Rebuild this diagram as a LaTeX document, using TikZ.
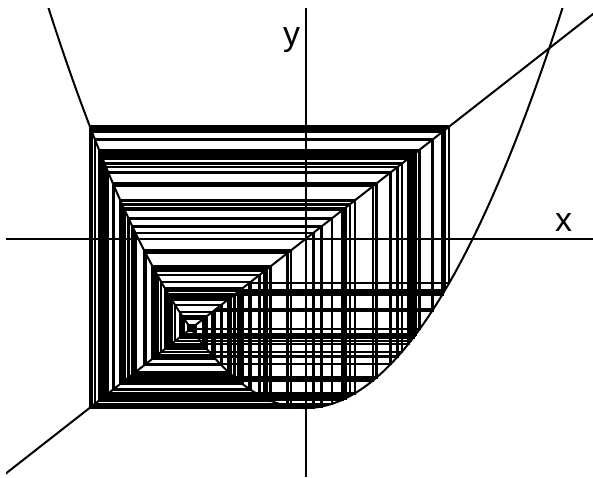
\documentclass[tikz,border=0pt]{standalone}
\usepackage{fontspec}
\setmainfont{Liberation Sans}
\begin{document}
\begin{tikzpicture}[x=0.5pt,y=-0.5pt]
\tikzset{ink/.style={line width=1pt, black}, web/.style={line width=1.2pt, line join=miter, black}, lbl/.style={font=\fontsize{17}{20}\selectfont, anchor=base, inner sep=0pt}}
\useasboundingbox (0,0) rectangle (593,477);
\begin{scope}
\clip (6,8) rectangle (593,477);
\draw[ink] (6,239) -- (593,239);
\draw[ink] (305.5,8) -- (305.5,477);
\begin{scope}[shift={(305.5,239)}, x=64.6pt, y=50.55pt]
\draw[ink] (-3,-3) -- (3,3);
\draw[ink, domain=-2.05:2.05, samples=160, smooth] plot (\x, {(\x)*(\x)-1.672});
\gdef\xn{-0.875}
\foreach \i in {1,...,105}{
  \pgfmathsetmacro\yn{(\xn)*(\xn)-1.672}
  \draw[web] (\xn,\xn) -- (\xn,\yn) -- (\yn,\yn);
  \global\let\xn\yn
}
\end{scope}
\end{scope}
\node[lbl] (xl) at (563.5,231.5) {x};
\node[lbl] (yl) at (291.5,45.5) {y};
\end{tikzpicture}
\end{document}
